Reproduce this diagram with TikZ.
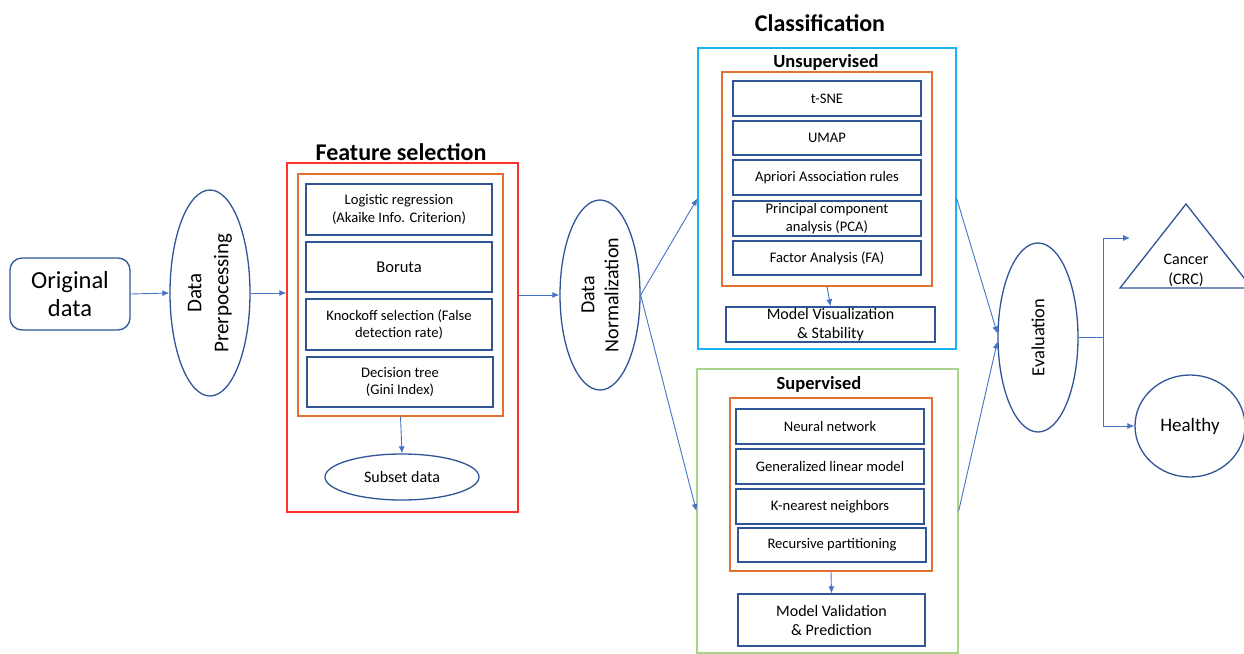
\documentclass[tikz,border=0pt]{standalone}
\usepackage{fontspec}
\setmainfont{Carlito}
\usetikzlibrary{arrows.meta,shapes.geometric}
\definecolor{bl}{HTML}{2F5597}
\definecolor{ar}{HTML}{4472C4}
\definecolor{rd}{HTML}{FF3030}
\definecolor{org}{HTML}{E2702E}
\definecolor{cy}{HTML}{1AB2F2}
\definecolor{gr}{HTML}{A8D48C}
\newcommand{\fs}[2]{\fontsize{#1}{#2}\selectfont}
\tikzset{
  mbox/.style={draw=bl, line width=1.3pt, rectangle, inner sep=0pt, align=center, font=\fs{14.6}{17.5}},
  oval/.style={draw=bl, line width=1.3pt, ellipse, inner sep=0pt, align=center},
  frame/.style={rectangle, inner sep=0pt, line width=1.3pt},
  ttl/.style={font=\bfseries\fs{24}{28}, inner sep=0pt},
  sttl/.style={font=\bfseries\fs{18.5}{22}, inner sep=0pt},
  arr/.style={draw=ar, line width=0.9pt, -{Latex[length=7pt,width=6pt]}},
  ln/.style={draw=ar, line width=0.9pt}
}
\begin{document}
\begin{tikzpicture}[x=1pt,y=-1pt]
\useasboundingbox (0,0) rectangle (1244,653);
% left
\node[draw=bl, line width=1.3pt, rounded corners=12pt, minimum width=120pt, minimum height=72pt, align=center, inner sep=0pt, font=\fs{24.5}{28}] (orig) at (70,294) {Original\\data};
\node[oval, minimum width=80pt, minimum height=206pt] (prep) at (210,293) {};
\node[rotate=90, align=center, font=\fs{21}{27}, inner sep=0pt] (preptxt) at (210,293) {Data\\Prerpocessing};
% feature selection
\node[ttl] (fstitle) at (401,152) {Feature selection};
\node[frame, draw=rd, minimum width=231pt, minimum height=349pt] (red) at (402.5,337.5) {};
\node[frame, draw=org, minimum width=205pt, minimum height=242pt] (or1) at (400.5,295) {};
\node[mbox, minimum width=186pt, minimum height=51pt] (lr) at (399,209.5) {Logistic regression\\(Akaike Info. Criterion)};
\node[mbox, minimum width=186pt, minimum height=50pt, font=\fs{16.5}{19}] (bor) at (399,267) {Boruta};
\node[mbox, minimum width=186pt, minimum height=51pt] (ko) at (399,324.5) {Knockoff selection (False\\detection rate)};
\node[mbox, minimum width=186pt, minimum height=50pt] (dt) at (400,382) {Decision tree\\(Gini Index)};
\node[oval, minimum width=154pt, minimum height=46pt, font=\fs{16}{19}] (sub) at (402,477) {Subset data};
% normalization
\node[oval, minimum width=80pt, minimum height=190pt] (norm) at (600,295) {};
\node[rotate=90, align=center, font=\fs{20}{24}, inner sep=0pt] (normtxt) at (600,295) {Data\\Normalization};
% classification
\node[ttl] (cltitle) at (820,23) {Classification};
\node[frame, draw=cy, minimum width=258pt, minimum height=301pt] (cyan) at (827,198.5) {};
\node[sttl] (unsup) at (826,62) {Unsupervised};
\node[frame, draw=org, minimum width=210pt, minimum height=214pt] (or2) at (827,179) {};
\node[mbox, minimum width=188pt, minimum height=35pt] (tsne) at (827,98.5) {t-SNE};
\node[mbox, minimum width=188pt, minimum height=34pt] (umap) at (827,138) {UMAP};
\node[mbox, minimum width=188pt, minimum height=35pt] (apr) at (827,177.5) {Apriori Association rules};
\node[mbox, minimum width=188pt, minimum height=35pt] (pca) at (827,218.5) {Principal component\\analysis (PCA)};
\node[mbox, minimum width=188pt, minimum height=34pt] (fa) at (827,258) {Factor Analysis (FA)};
\node[mbox, minimum width=209pt, minimum height=35pt, font=\fs{16}{19}] (mviz) at (830.5,324.5) {Model Visualization\\\& Stability};
\node[frame, draw=gr, minimum width=261pt, minimum height=284pt] (green) at (827.5,511) {};
\node[sttl] (sup) at (819,384) {Supervised};
\node[frame, draw=org, minimum width=202pt, minimum height=173pt] (or3) at (831,484.5) {};
\node[mbox, minimum width=188pt, minimum height=35pt] (nn) at (830,426.5) {Neural network};
\node[mbox, minimum width=188pt, minimum height=35pt] (glm) at (830,466.5) {Generalized linear model};
\node[mbox, minimum width=188pt, minimum height=35pt] (knn) at (830,506.5) {K-nearest neighbors};
\node[mbox, minimum width=188pt, minimum height=34pt] (rp) at (832,545) {Recursive partitioning};
\node[mbox, minimum width=187pt, minimum height=52pt, font=\fs{16}{19}] (mval) at (831.5,620) {Model Validation\\\& Prediction};
% evaluation
\node[oval, minimum width=80pt, minimum height=189pt] (eval) at (1038,337.5) {};
\node[rotate=90, font=\fs{18.5}{22}, inner sep=0pt] (evaltxt) at (1038,337.5) {Evaluation};
\draw[bl, line width=1.3pt] (1186,204) -- (1120,288) -- (1252,288) -- cycle;
\node[align=center, font=\fs{16}{20}, inner sep=0pt] (canc) at (1186,270) {Cancer\\(CRC)};
\coordinate (cancin) at (1130,238);
\node[oval, minimum width=110pt, minimum height=102pt, font=\fs{19}{22}] (heal) at (1190,426) {Healthy};
% connectors
\draw[arr] (orig.east) -- (prep.west);
\draw[arr] (prep.east) -- (prep.east -| red.west);
\draw[arr] (or1.south) -- (sub.north);
\draw[arr] (norm.west -| red.east) -- (norm.west);
\draw[arr] (norm.east) -- (cyan.west);
\draw[arr] (norm.east) -- (green.west);
\draw[arr] (or2.south) -- (mviz.north);
\draw[arr] (or3.south) -- (mval.north);
\draw[arr] (cyan.east) -- ([yshift=4pt]eval.west);
\draw[arr] (green.east) -- ([yshift=-4pt]eval.west);
\draw[ln] (eval.east) -- ++(25,0) coordinate (split);
\draw[arr] (split) |- (cancin);
\draw[arr] (split) |- (heal.west);
\end{tikzpicture}
\end{document}
